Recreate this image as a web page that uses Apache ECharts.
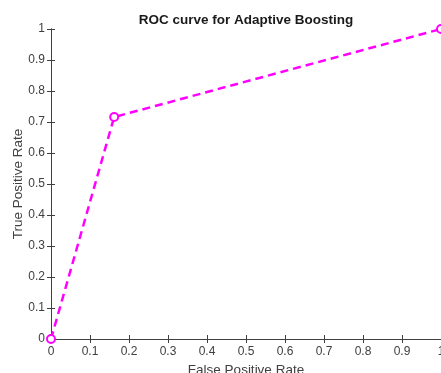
<!DOCTYPE html>
<html>
<head>
<meta charset="utf-8">
<script src="https://cdn.jsdelivr.net/npm/echarts@6/dist/echarts.min.js"></script>
<style>
html,body{margin:0;padding:0;background:#fff;}
#chart{width:441px;height:373px;}
</style>
</head>
<body>
<div id="chart"></div>
<script>
// ROC operating points of the AdaBoost classifier
const fpr = [0, 0.162, 1];
const tpr = [0, 0.716, 1];
const xTicks = [0, 0.1, 0.2, 0.3, 0.4, 0.5, 0.6, 0.7, 0.8, 0.9, 1];
const yTicks = [0, 0.1, 0.2, 0.3, 0.4, 0.5, 0.6, 0.7, 0.8, 0.9, 1];

const axisColor = '#404040';
const labelColor = '#404040';
const font = 'Liberation Sans, Arial, sans-serif';

const fmt = v => String(Math.round(v * 10) / 10);

const chart = echarts.init(document.getElementById('chart'), null, {renderer: 'canvas'});
const baseAxis = {
  type: 'value',
  min: xTicks[0],
  max: xTicks[xTicks.length - 1],
  interval: 0.1,
  splitLine: {show: false},
  axisLine: {show: true, lineStyle: {color: axisColor, width: 1}},
  axisTick: {show: true, inside: true, length: 4, lineStyle: {color: axisColor}},
};

chart.setOption({
  animation: false,
  backgroundColor: '#fff',
  title: {
    text: 'ROC curve for Adaptive Boosting',
    left: 241,
    top: 8,
    textAlign: 'center',
    textStyle: {fontFamily: font, fontSize: 13.5, fontWeight: 'bold', color: '#1a1a1a'}
  },
  grid: {left: 51, right: 0, top: 29, bottom: 34, containLabel: false, outerBoundsMode: 'none'},
  xAxis: [
    Object.assign({}, baseAxis, {
      position: 'bottom',
      name: 'False Positive Rate',
      nameLocation: 'middle',
      nameGap: 24,
      nameMoveOverlap: false,
      nameTextStyle: {fontFamily: font, fontSize: 13.5, color: labelColor},
      axisLabel: {fontFamily: font, fontSize: 12, color: labelColor, margin: 7, formatter: fmt}
    }),
    Object.assign({}, baseAxis, {
      position: 'top',
      axisLabel: {show: false}
    })
  ],
  yAxis: [
    Object.assign({}, baseAxis, {
      min: yTicks[0],
      max: yTicks[yTicks.length - 1],
      position: 'left',
      name: 'True Positive Rate',
      nameLocation: 'middle',
      nameGap: 26,
      nameMoveOverlap: false,
      nameTextStyle: {fontFamily: font, fontSize: 13.5, color: labelColor},
      axisLabel: {fontFamily: font, fontSize: 12, color: labelColor, margin: 6, formatter: fmt}
    }),
    Object.assign({}, baseAxis, {
      min: yTicks[0],
      max: yTicks[yTicks.length - 1],
      position: 'right',
      axisLabel: {show: false}
    })
  ],
  series: [{
    type: 'line',
    data: fpr.map((x, i) => [x, tpr[i]]),
    xAxisIndex: 0,
    yAxisIndex: 0,
    clip: false,
    symbol: 'circle',
    symbolSize: 8,
    showAllSymbol: true,
    lineStyle: {color: '#ff00ff', width: 2.5, type: [8, 5]},
    itemStyle: {color: '#ffffff', borderColor: '#ff00ff', borderWidth: 2}
  }]
});
</script>
</body>
</html>
